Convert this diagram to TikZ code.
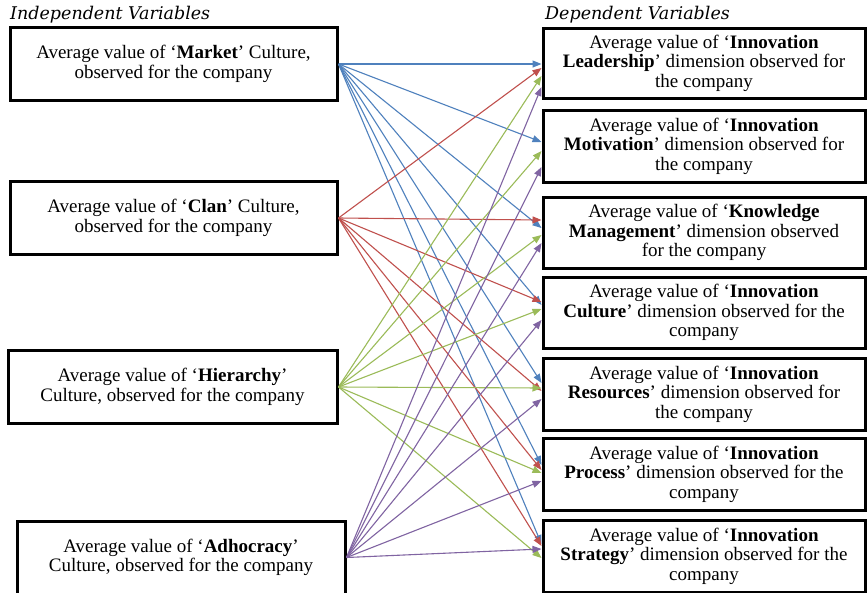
\documentclass[tikz,border=0pt]{standalone}
\usepackage{fontspec}
\setmainfont{Liberation Serif}
\newfontfamily\titlefont{DejaVu Serif}
\usetikzlibrary{arrows.meta,calc}
\definecolor{cmk}{RGB}{79,129,189}
\definecolor{ccl}{RGB}{192,80,77}
\definecolor{chi}{RGB}{155,187,89}
\definecolor{cad}{RGB}{128,100,162}
\begin{document}
\begin{tikzpicture}[x=1pt,y=-1pt,
  box/.style={draw=black,line width=3pt,align=center,inner sep=0pt,
    font=\fontsize{19}{19.5}\selectfont},
  lbox/.style={box,minimum width=327,minimum height=73},
  rbox/.style={box,minimum width=322,minimum height=71},
  conn/.style={line width=1.1pt,-{Triangle[length=9pt,width=7pt]}},
  ttl/.style={anchor=west,inner sep=0pt,font=\titlefont\itshape\fontsize{17.5}{19}\selectfont}]
\useasboundingbox (0,0) rectangle (867,592);
\clip (0,0) rectangle (867,592);
\fill[white] (0,0) rectangle (867,592);

% titles
\node[ttl] (tl) at (10,15) {Independent Variables};
\node[ttl] (tr) at (545,15) {Dependent Variables};

% independent variables
\node[lbox] (mk) at (173.5,64) {Average value of ‘\textbf{Market}’ Culture,\\observed for the company};
\node[lbox] (cl) at (173.5,218) {Average value of ‘\textbf{Clan}’ Culture,\\observed for the company};
\node[lbox,minimum width=329] (hi) at (172.5,387) {Average value of ‘\textbf{Hierarchy}’\\Culture, observed for the company};
\node[lbox,minimum width=328] (ad) at (181,557.5) {Average value of ‘\textbf{Adhocracy}’\\Culture, observed for the company};

% dependent variables
\node[rbox,minimum height=70] (t1) at (704,63) {Average value of ‘\textbf{Innovation}\\\textbf{Leadership}’ dimension observed for\\the company};
\node[rbox,minimum height=72] (t2) at (704,146) {Average value of ‘\textbf{Innovation}\\\textbf{Motivation}’ dimension observed for\\the company};
\node[rbox] (t3) at (704,232.5) {Average value of ‘\textbf{Knowledge}\\\textbf{Management}’ dimension observed\\for the company};
\node[rbox] (t4) at (704,312.5) {Average value of ‘\textbf{Innovation}\\\textbf{Culture}’ dimension observed for the\\company};
\node[rbox,minimum height=72] (t5) at (704,394) {Average value of ‘\textbf{Innovation}\\\textbf{Resources}’ dimension observed for\\the company};
\node[rbox,minimum height=72] (t6) at (704,474) {Average value of ‘\textbf{Innovation}\\\textbf{Process}’ dimension observed for the\\company};
\node[rbox,minimum height=72] (t7) at (704,556) {Average value of ‘\textbf{Innovation}\\\textbf{Strategy}’ dimension observed for the\\company};

% connectors
\foreach \s/\t/\dy/\c in {
  mk/t1/1/cmk, mk/t2/-4/cmk, mk/t3/-4.5/cmk, mk/t4/-7.5/cmk, mk/t5/-11/cmk, mk/t6/-9/cmk, mk/t7/-12/cmk,
  cl/t1/5/ccl, cl/t3/-12.5/ccl, cl/t4/-10.5/ccl, cl/t5/-3/ccl, cl/t6/-4/ccl, cl/t7/-10/ccl,
  hi/t1/13/chi, hi/t2/5/chi, hi/t3/2.5/chi, hi/t4/-3.5/chi, hi/t5/-6/chi, hi/t6/-1/chi, hi/t7/2/chi,
  ad/t1/24/cad, ad/t2/21/cad, ad/t3/10.5/cad, ad/t4/7.5/cad, ad/t5/5/cad, ad/t6/7/cad, ad/t7/-7/cad}
  \draw[conn,color=\c] (\s.east) -- ($(\t.west)+(0,\dy)$);
\end{tikzpicture}
\end{document}
